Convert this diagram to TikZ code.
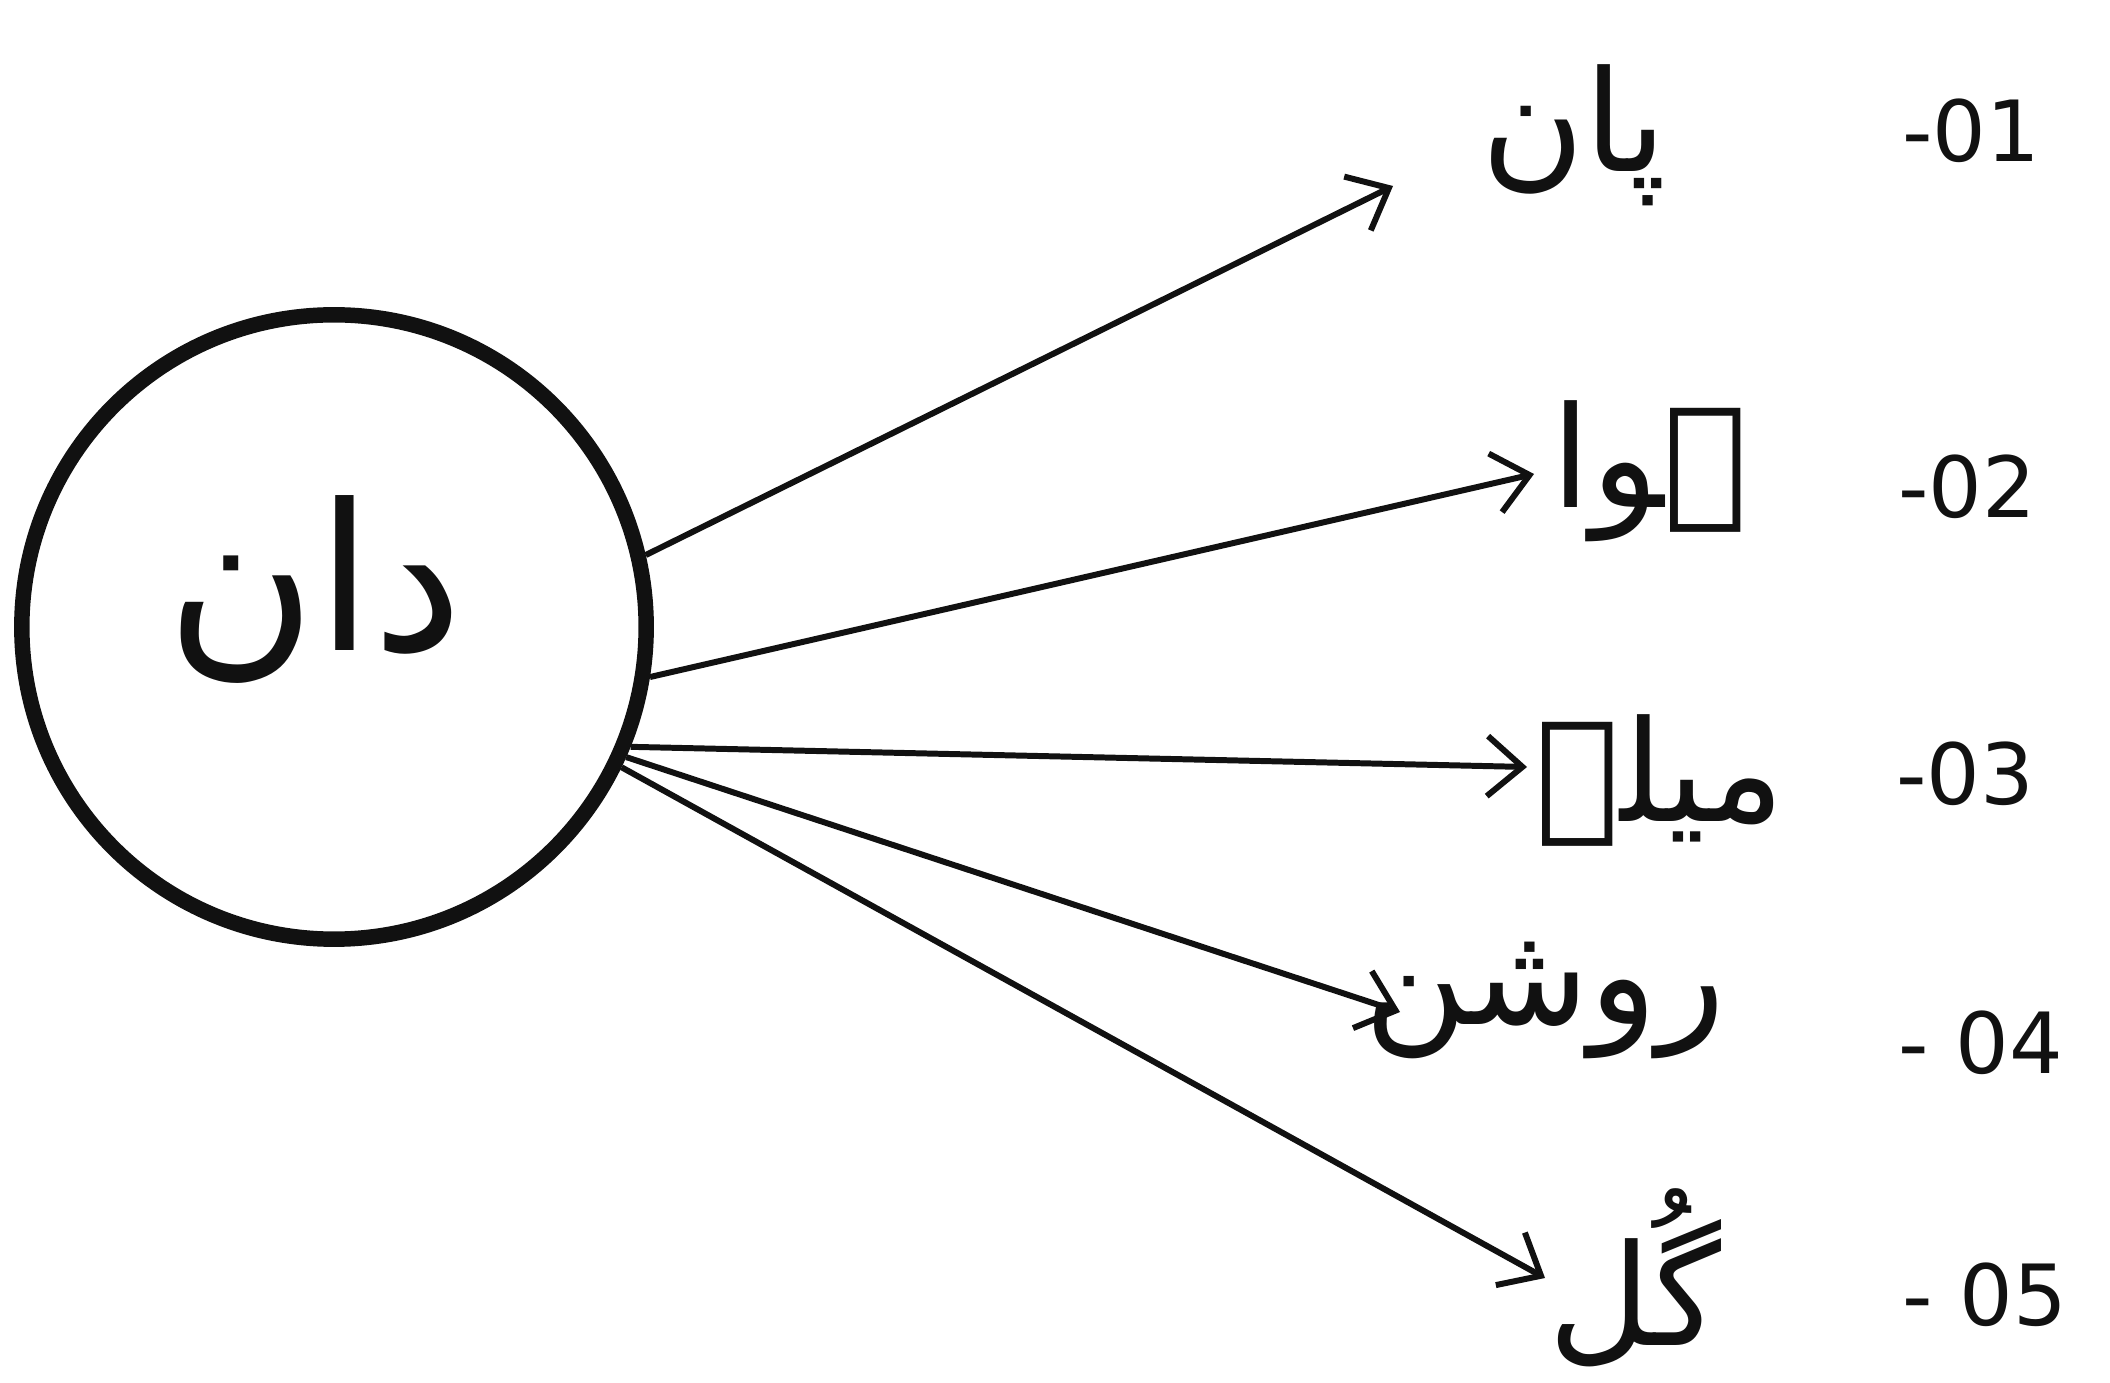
\documentclass[tikz,border=0pt]{standalone}
\usepackage{fontspec}
\setmainfont{DejaVu Sans}
\newfontfamily\urdufont[Script=Arabic]{DejaVu Sans}
\TeXXeTstate=1
\usepackage{xcolor}
\usepackage{tikz}
\usetikzlibrary{arrows.meta,positioning}
\definecolor{inkblack}{HTML}{111111}
\tikzset{
  hubcircle/.style={draw=inkblack,circle,line width=4.4pt,minimum size=6.24cm,inner sep=0pt},
  rootword/.style={font=\urdufont\fontsize{58}{66}\selectfont,text=inkblack,inner sep=0pt},
  wordlabel/.style={font=\urdufont\fontsize{40}{48}\selectfont,text=inkblack,inner sep=0pt},
  numlabel/.style={font=\fontsize{24}{30}\selectfont,text=inkblack,inner sep=0pt},
  pointer/.style={-{Straight Barb[length=3.5mm,width=6mm]},line width=1.7pt,draw=inkblack}
}

\begin{document}
\begin{tikzpicture}[x=0.01cm,y=-0.01cm]
\useasboundingbox (0,0) rectangle (2110,1383);
\node[hubcircle] (hub) at (334,627) {};
\node[rootword] (root) at (315,590) {\beginR دان\endR};
% words on the right
\node[wordlabel] (paan) at (1574,135) {\beginR پان\endR};
\node[wordlabel] (hawa) at (1650,471) {\beginR ہوا\endR};
\node[wordlabel] (melay) at (1660,780) {\beginR میلے\endR};
\node[wordlabel] (roshan) at (1545,1000) {\beginR روشن\endR};
\node[wordlabel] (gul) at (1635,1278) {\beginR گُل\endR};
\node[numlabel] (n1) at (1971,131) {-01};
\node[numlabel] (n2) at (1967,487) {-02};
\node[numlabel] (n3) at (1965,774) {-03};
\node[numlabel] (n4) at (1981,1043) {- 04};
\node[numlabel] (n5) at (1985,1295) {- 05};
% arrow ends
\coordinate (tip1) at (1393,186);
\coordinate (tip2) at (1534,474);
\coordinate (tip3) at (1527,767);
\coordinate (tip4) at (1400,1012);
\coordinate (tip5) at (1545,1278);
\draw[pointer] (hub.13) -- (tip1);
\draw[pointer] (hub.-9.5) -- (tip2);
\draw[pointer] (hub.-22) -- (tip3);
\draw[pointer] (hub.-24.7) -- (tip4);
\draw[pointer] (hub.-26.4) -- (tip5);
\end{tikzpicture}
\end{document}
